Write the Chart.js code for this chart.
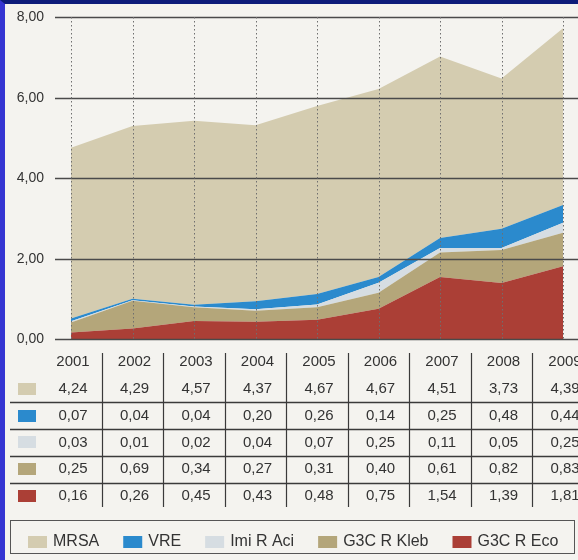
<!DOCTYPE html>
<html>
<head>
<meta charset="utf-8">
<script src="https://cdn.jsdelivr.net/npm/chart.js@4"></script>
<style>
  html, body { margin: 0; padding: 0; background: #f4f3ef; }
  #frame {
    width: 578px; height: 560px; box-sizing: border-box;
    border-left: 5px solid #3535d2; border-top: 4px solid #0d1c7a;
    background: #f4f3ef; position: relative;
  }
  #wrap { width: 573px; height: 556px; position: relative; }
</style>
</head>
<body>
<div id="frame"><div id="wrap"><canvas id="chart"></canvas></div></div>
<script>
// --- data ---
const years = ['2001', '2002', '2003', '2004', '2005', '2006', '2007', '2008', '2009'];
const mrsa     = [4.24, 4.29, 4.57, 4.37, 4.67, 4.67, 4.51, 3.73, 4.39];
const vre      = [0.07, 0.04, 0.04, 0.20, 0.26, 0.14, 0.25, 0.48, 0.44];
const imiRAci  = [0.03, 0.01, 0.02, 0.04, 0.07, 0.25, 0.11, 0.05, 0.25];
const g3cRKleb = [0.25, 0.69, 0.34, 0.27, 0.31, 0.40, 0.61, 0.82, 0.83];
const g3cREco  = [0.16, 0.26, 0.45, 0.43, 0.48, 0.75, 1.54, 1.39, 1.81];
const seriesNames = ['MRSA', 'VRE', 'Imi R Aci', 'G3C R Kleb', 'G3C R Eco'];
const yMin = 0, yMax = 8, yStep = 2;

const COLORS = {
    'MRSA': '#d4ccb0',
    'VRE': '#2b8acd',
    'Imi R Aci': '#d6dde2',
    'G3C R Kleb': '#b4a67a',
    'G3C R Eco': '#ab3f36'
};
const FONT = '"Liberation Sans", Arial, sans-serif';
const TEXT = '#333333';

const fmt = v => v.toFixed(2).replace('.', ',');

// stack bottom -> top
const stackOrder = [
    ['G3C R Eco', g3cREco],
    ['G3C R Kleb', g3cRKleb],
    ['Imi R Aci', imiRAci],
    ['VRE', vre],
    ['MRSA', mrsa]
];
const datasets = stackOrder.map(([name, data], i) => ({
    label: name,
    data: data,
    backgroundColor: COLORS[name],
    borderWidth: 0,
    pointRadius: 0,
    tension: 0,
    fill: i === 0 ? 'origin' : '-1'
}));

// table + legend rows (top to bottom), same order as the original
const tableRows = seriesNames.map(n => ({ name: n, values: stackOrder.find(s => s[0] === n)[1] }));

const paperPlugin = {
    id: 'paper',
    beforeDraw(chart) {
        const ctx = chart.ctx;
        ctx.save();
        ctx.fillStyle = '#f4f3ef';
        ctx.fillRect(0, 0, chart.width, chart.height);
        ctx.restore();
    },
    afterDatasetsDraw(chart) {
        const ctx = chart.ctx;
        const x = chart.scales.x, y = chart.scales.y;
        ctx.save();

        // horizontal grid lines + y labels
        ctx.font = '14px ' + FONT;
        ctx.fillStyle = TEXT;
        ctx.textAlign = 'right';
        ctx.textBaseline = 'middle';
        y.ticks.forEach(t => {
            const py = Math.round(y.getPixelForValue(t.value)) + 0.5;
            ctx.strokeStyle = '#4a4a4a';
            ctx.lineWidth = 1.5;
            ctx.beginPath();
            ctx.moveTo(50, py);
            ctx.lineTo(chart.width, py);
            ctx.stroke();
            ctx.fillText(fmt(t.value), 39, py);
        });

        // dotted vertical lines at each year
        ctx.strokeStyle = '#6f6f6f';
        ctx.lineWidth = 1;
        ctx.setLineDash([1.5, 2.5]);
        const yTop = y.getPixelForValue(yMax), yBot = y.getPixelForValue(yMin);
        years.forEach((_, i) => {
            const px = Math.round(x.getPixelForValue(i)) + 0.5;
            ctx.beginPath();
            ctx.moveTo(px, yTop);
            ctx.lineTo(px, yBot);
            ctx.stroke();
        });
        ctx.setLineDash([]);

        // data table
        const rowH = 26.8;
        const row0 = 358;                 // year row centre
        const colX = i => x.getPixelForValue(i) + 2;
        ctx.font = '15px ' + FONT;
        ctx.textAlign = 'center';
        ctx.fillStyle = TEXT;
        years.forEach((yr, i) => ctx.fillText(yr, colX(i), row0));
        tableRows.forEach((r, ri) => {
            const cy = row0 + rowH * (ri + 1);
            ctx.fillStyle = COLORS[r.name];
            ctx.fillRect(13, Math.round(cy - 6), 18, 12);
            ctx.fillStyle = TEXT;
            r.values.forEach((v, i) => ctx.fillText(fmt(v), colX(i), cy));
        });
        // row separators (between data rows)
        ctx.strokeStyle = '#3a3a3a';
        ctx.lineWidth = 1.3;
        for (let ri = 1; ri < tableRows.length; ri++) {
            const ly = Math.round(row0 + rowH * (ri + 0.5)) + 0.5;
            ctx.beginPath();
            ctx.moveTo(5, ly);
            ctx.lineTo(chart.width, ly);
            ctx.stroke();
        }
        // column separators
        ctx.lineWidth = 1.2;
        for (let i = 0; i < years.length - 1; i++) {
            const lx = Math.round((x.getPixelForValue(i) + x.getPixelForValue(i + 1)) / 2) + 0.5;
            ctx.beginPath();
            ctx.moveTo(lx, 349);
            ctx.lineTo(lx, 503);
            ctx.stroke();
        }

        // legend box
        ctx.strokeStyle = '#555';
        ctx.lineWidth = 1;
        ctx.strokeRect(5.5, 516.5, 564, 33);
        ctx.font = '16px ' + FONT;
        ctx.textAlign = 'left';
        let lx = 23;
        const ly = 538;
        seriesNames.forEach(n => {
            ctx.fillStyle = COLORS[n];
            ctx.fillRect(lx, ly - 6, 19, 12);
            ctx.fillStyle = TEXT;
            ctx.fillText(n, lx + 25, ly);
            lx += 25 + ctx.measureText(n).width + 24;
        });

        ctx.restore();
    }
};

new Chart(document.getElementById('chart'), {
    type: 'line',
    data: { labels: years, datasets: datasets },
    plugins: [paperPlugin],
    options: {
        responsive: true,
        maintainAspectRatio: false,
        animation: false,
        layout: { padding: { left: 66, right: 15, top: 13, bottom: 221 } },
        plugins: { legend: { display: false }, tooltip: { enabled: false } },
        scales: {
            x: { display: false, offset: false },
            y: { display: false, stacked: true, min: yMin, max: yMax, ticks: { stepSize: yStep } }
        }
    }
});
</script>
</body>
</html>
